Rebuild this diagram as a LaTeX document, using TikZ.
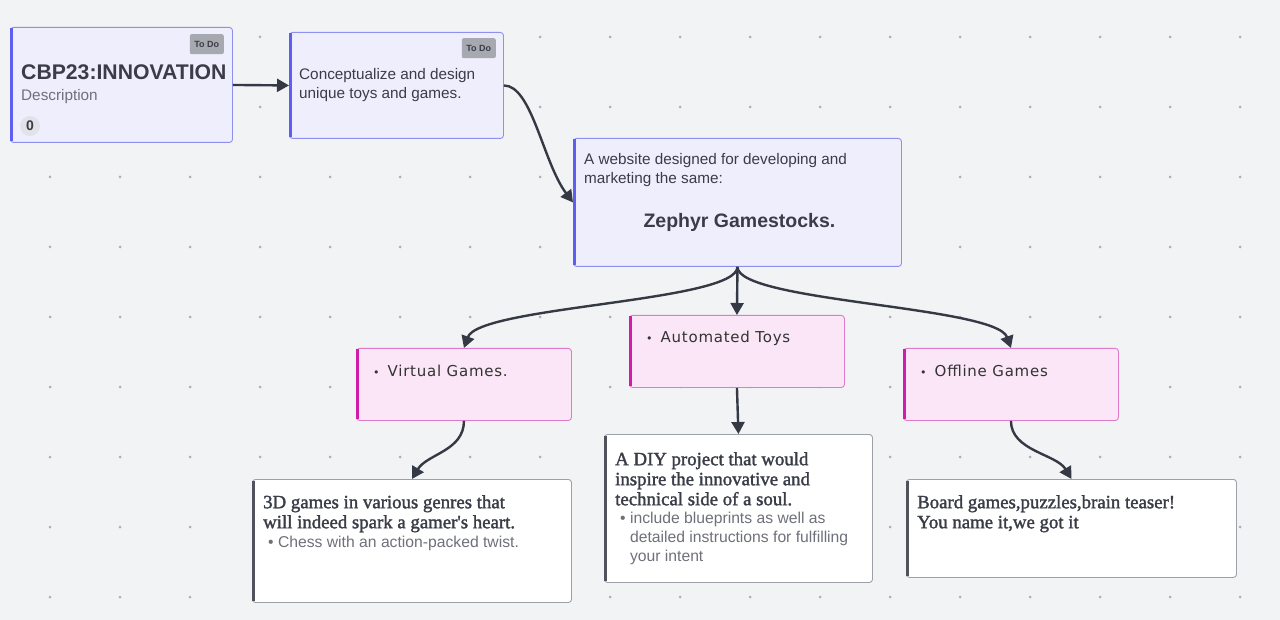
\documentclass[tikz,border=0pt]{standalone}
\usepackage{fontspec}
\setmainfont{Liberation Sans}
\newfontfamily\notefont{Liberation Serif}[FakeBold=1.6]
\newfontfamily\listfont{DejaVu Sans}[LetterSpace=5]
\usetikzlibrary{arrows.meta, calc}
\definecolor{boardbg}{HTML}{F2F3F5}
\definecolor{griddot}{HTML}{ADAFB5}
\definecolor{inkdark}{HTML}{3A3D47}
\definecolor{inkgrey}{HTML}{6E717A}
\definecolor{lavfill}{HTML}{EEEEFC}
\definecolor{lavedge}{HTML}{8F8FEE}
\definecolor{lavbar}{HTML}{5E5EF0}
\definecolor{tagfill}{HTML}{A7A9B0}
\definecolor{zerofill}{HTML}{E2E3E8}
\definecolor{pinkfill}{HTML}{FAE6F6}
\definecolor{pinkedge}{HTML}{E07ACB}
\definecolor{pinkbar}{HTML}{D01CA8}
\definecolor{noteedge}{HTML}{9EA0A7}
\definecolor{notebar}{HTML}{50535C}
\definecolor{arrowink}{HTML}{343944}
\newcommand{\fsz}[2]{\fontsize{#1}{#2}\selectfont}
\newcommand{\leftbar}[2]{\draw[line width=3pt, #2] ([xshift=1.5pt,yshift=-1.5pt]#1.north west) -- ([xshift=1.5pt,yshift=1.5pt]#1.south west);}
\newcommand{\itemdot}{{\fsz{11}{11}•}\hspace{8pt}}

\begin{document}
\begin{tikzpicture}[x=1pt, y=-1pt,
  card/.style={draw=lavedge, fill=lavfill, rounded corners=3pt, line width=0.9pt,
               anchor=north west, inner sep=0pt},
  tag/.style={fill=tagfill, rounded corners=2pt, text=inkdark, font=\bfseries\fsz{9}{10},
              minimum width=34pt, minimum height=20pt, inner sep=0pt, anchor=north east},
  pinkbox/.style={card, draw=pinkedge, fill=pinkfill, minimum width=215pt, minimum height=72pt},
  notebox/.style={card, draw=noteedge, fill=white},
  txt/.style={inner sep=0pt, align=left, text=inkdark},
  item/.style={txt, anchor=base west, text=black!80, font=\listfont\fsz{15}{18}},
  note/.style={txt, anchor=north west, font=\notefont\fsz{18.8}{20}},
  sub/.style={txt, anchor=north west, text=inkgrey, font=\fsz{15.7}{19}},
  arr/.style={-{Triangle[length=12pt, width=13pt]}, line width=2.4pt, draw=arrowink}]
  % board and dot grid
  \fill[boardbg] (0,0) rectangle (1280,620);
  \useasboundingbox (0,0) rectangle (1280,620);
  \foreach \gx in {0,...,17}
    \foreach \gy in {0,...,8}
      \fill[griddot] (50+70*\gx, 37+70*\gy) circle (1.5pt);
  % top cards
  \node[card, minimum width=222pt, minimum height=115pt] (cbp) at (10,27) {};
  \leftbar{cbp}{lavbar}
  \node[tag] (cbptag) at (224,34) {To Do};
  \node[txt, anchor=base west, font=\bfseries\fsz{21.2}{24}] (cbptitle) at (21,80) {CBP23:INNOVATION};
  \node[txt, anchor=base west, text=inkgrey, font=\fsz{15.3}{18}] (cbpdesc) at (21,101) {Description};
  \node[circle, fill=zerofill, minimum size=20pt, inner sep=0pt, text=inkdark,
        font=\bfseries\fsz{14}{16}] (cbpcount) at (30,126) {0};
  \node[card, minimum width=214pt, minimum height=106pt] (idea) at (289,32) {};
  \leftbar{idea}{lavbar}
  \node[tag] (ideatag) at (496,38) {To Do};
  \node[txt, anchor=north west, font=\fsz{15.3}{19}] (ideatext) at ([shift={(10,36)}]idea.north west)
    {Conceptualize and design\\unique toys and games.};
  \node[card, minimum width=328pt, minimum height=128pt] (site) at (573,138) {};
  \leftbar{site}{lavbar}
  \node[txt, anchor=north west, font=\fsz{15.3}{19}] (sitetext) at ([shift={(11,15)}]site.north west)
    {A website designed for developing and\\marketing the same:};
  \node[txt, anchor=base, font=\bfseries\fsz{19.5}{22}] (sitename) at ([shift={(2,90)}]site.north)
    {Zephyr Gamestocks.};
  % categories
  \node[pinkbox] (virtual) at (356,348) {};
  \leftbar{virtual}{pinkbar}
  \node[item] (virtualtext) at ([shift={(17,28)}]virtual.north west) {\itemdot Virtual Games.};
  \node[pinkbox] (toys) at (629,315) {};
  \leftbar{toys}{pinkbar}
  \node[item] (toystext) at ([shift={(17,28)}]toys.north west) {\itemdot Automated Toys};
  \node[pinkbox] (offline) at (903,348) {};
  \leftbar{offline}{pinkbar}
  \node[item] (offlinetext) at ([shift={(17,28)}]offline.north west) {\itemdot Offline Games};
  % notes
  \node[notebox, minimum width=319pt, minimum height=123pt] (vnote) at (252,479) {};
  \leftbar{vnote}{notebar}
  \node[note] (vnotetext) at ([shift={(11,16)}]vnote.north west)
    {3D games in various genres that\\will indeed spark a gamer\textquotesingle s heart.};
  \node[sub] (vnotesub) at ([shift={(16,57)}]vnote.north west) {•\ Chess with an action-packed twist.};
  \node[notebox, minimum width=268pt, minimum height=148pt] (diy) at (604,434) {};
  \leftbar{diy}{notebar}
  \node[note] (diytext) at ([shift={(11,18)}]diy.north west)
    {A DIY project that would\\inspire the innovative and\\technical side of a soul.};
  \node[sub] (diysub) at ([shift={(16,78)}]diy.north west)
    {•\ include blueprints as well as\\\hphantom{•\ }detailed instructions for fulfilling\\\hphantom{•\ }your intent};
  \node[notebox, minimum width=330pt, minimum height=98pt] (board) at (906,479) {};
  \leftbar{board}{notebar}
  \node[note] (boardtext) at ([shift={(11,16)}]board.north west)
    {Board games,puzzles,brain teaser!\\You name it,we got it};
  % connectors
  \draw[arr] (cbp.east) -- (idea.west);
  \draw[arr] (idea.east) .. controls +(28,0) and +(-30,-40) .. (site.west);
  \draw[arr] (site.south) -- (toys.north);
  \draw[arr] (site.south) .. controls +(0,35) and +(15,-42) .. (virtual.north);
  \draw[arr] (site.south) .. controls +(0,35) and +(-15,-42) .. (offline.north);
  \draw[arr] (virtual.south) .. controls +(0,30) and +(15,-25) .. (vnote.north);
  \draw[arr] (toys.south) -- (diy.north);
  \draw[arr] (offline.south) .. controls +(0,30) and +(-15,-25) .. (board.north);
\end{tikzpicture}
\end{document}
